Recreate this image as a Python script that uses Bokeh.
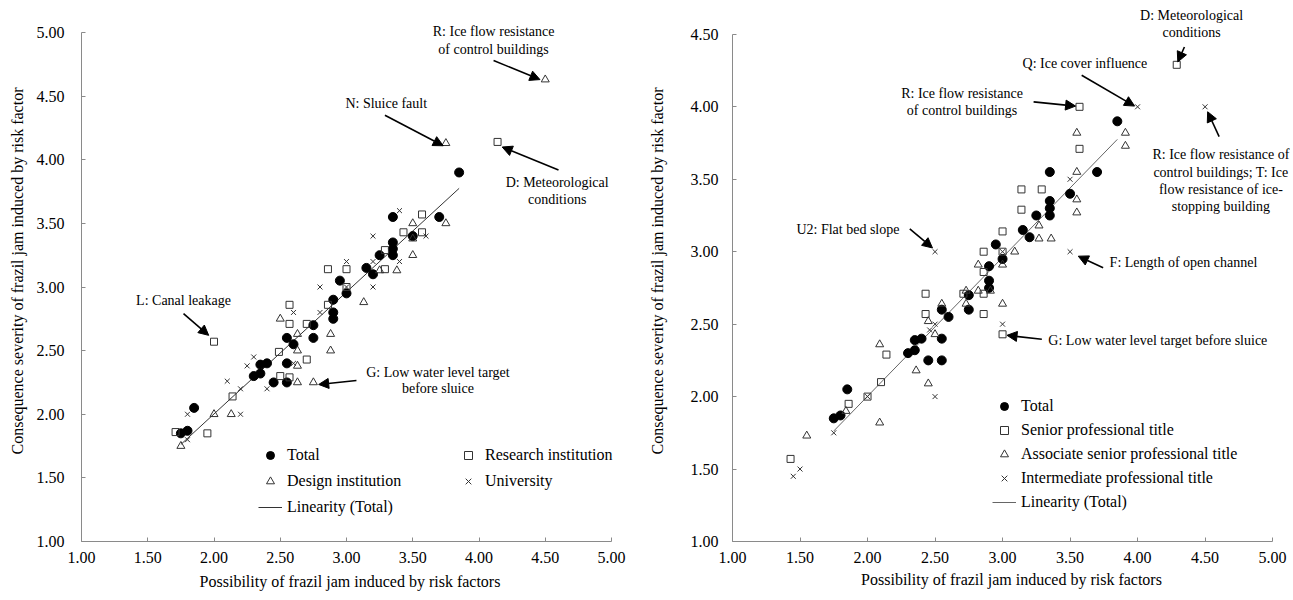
import numpy as np
from bokeh.plotting import figure
from bokeh.layouts import row
from bokeh.models import (Legend, LegendItem, Label, Arrow, NormalHead, FixedTicker,
                          PrintfTickFormatter, Range1d)
from bokeh.embed import file_html
from bokeh.resources import INLINE

FONT = "Liberation Serif"

# ---------------- data ----------------
total_x = [1.75, 1.80, 1.85, 2.30, 2.35, 2.35, 2.40, 2.45, 2.55, 2.55, 2.55, 2.60, 2.75, 2.75, 2.90,
           2.90, 2.90, 2.95, 3.00, 3.15, 3.20, 3.25, 3.35, 3.35, 3.35, 3.35, 3.50, 3.70, 3.85]
total_y = [1.85, 1.87, 2.05, 2.30, 2.32, 2.39, 2.40, 2.25, 2.25, 2.40, 2.60, 2.55, 2.70, 2.60, 2.90,
           2.80, 2.75, 3.05, 2.95, 3.15, 3.10, 3.25, 3.35, 3.30, 3.25, 3.55, 3.40, 3.55, 3.90]

research_x = [1.71, 1.95, 2.00, 2.14, 2.49, 2.50, 2.57, 2.57, 2.57, 2.70, 2.70, 2.86, 3.00, 2.86,
              3.00, 3.29, 3.29, 3.43, 3.57, 3.57, 4.14]
research_y = [1.86, 1.85, 2.57, 2.14, 2.49, 2.30, 2.29, 2.71, 2.86, 2.71, 2.43, 2.86, 3.00, 3.14,
              3.14, 3.14, 3.29, 3.43, 3.43, 3.57, 4.14]

design_x = [1.75, 2.00, 2.13, 2.50, 2.63, 2.63, 2.63, 2.63, 2.75, 2.88, 2.88, 3.13, 3.25, 3.38,
            3.50, 3.50, 3.50, 3.75, 3.75, 4.50]
design_y = [1.75, 2.00, 2.00, 2.75, 2.63, 2.50, 2.38, 2.25, 2.25, 2.63, 2.50, 2.88, 3.13, 3.13,
            3.25, 3.38, 3.50, 3.50, 4.13, 4.63]

univ_x = [1.80, 1.80, 2.10, 2.20, 2.20, 2.25, 2.30, 2.40, 2.60, 2.60, 2.80, 2.80, 3.00, 3.00,
          3.20, 3.20, 3.20, 3.40, 3.40, 3.60]
univ_y = [2.00, 1.80, 2.26, 2.20, 2.00, 2.38, 2.45, 2.20, 2.80, 2.40, 3.00, 2.80, 3.00, 3.20,
          3.00, 3.20, 3.40, 3.60, 3.20, 3.40]

senior_x = [1.43, 1.86, 2.00, 2.10, 2.14, 2.43, 2.43, 2.71, 2.86, 2.86, 3.00, 2.86, 2.86, 3.00,
            3.00, 3.14, 3.14, 3.29, 3.57, 3.57, 4.29]
senior_y = [1.57, 1.95, 2.00, 2.10, 2.29, 2.57, 2.71, 2.71, 2.71, 2.57, 2.43, 2.86, 3.00, 3.00,
            3.14, 3.29, 3.43, 3.43, 3.71, 4.00, 4.29]

assoc_x = [1.55, 1.84, 2.09, 2.09, 2.36, 2.45, 2.45, 2.50, 2.55, 2.73, 2.73, 2.82, 2.91, 3.00,
           2.82, 3.00, 3.09, 3.27, 3.27, 3.36, 3.55, 3.55, 3.55, 3.55, 3.91, 3.91]
assoc_y = [1.73, 1.90, 1.82, 2.36, 2.18, 2.09, 2.52, 2.43, 2.64, 2.64, 2.73, 2.73, 2.73, 2.64,
           2.91, 2.91, 3.00, 3.18, 3.09, 3.09, 3.36, 3.27, 3.55, 3.82, 3.82, 3.73]

inter_x = [1.45, 1.50, 1.75, 2.00, 2.50, 2.46, 2.50, 3.00, 2.50, 3.00, 3.50, 3.50, 4.00, 4.50]
inter_y = [1.45, 1.50, 1.75, 2.00, 2.00, 2.46, 2.50, 2.50, 3.00, 3.00, 3.00, 3.50, 4.00, 4.00]

x_ticks = [1.0, 1.5, 2.0, 2.5, 3.0, 3.5, 4.0, 4.5, 5.0]
left_y_ticks = [1.0, 1.5, 2.0, 2.5, 3.0, 3.5, 4.0, 4.5, 5.0]
right_y_ticks = [1.0, 1.5, 2.0, 2.5, 3.0, 3.5, 4.0, 4.5]

x_label = "Possibility of frazil jam induced by risk factors"
y_label = "Consequence severity of frazil jam induced by risk factor"

# annotation texts (text, x, y) and arrows (x0, y0, x1, y1)
left_notes = [
    ("R: Ice flow resistance", 4.11, 5.01),
    ("of control buildings", 4.11, 4.87),
    ("N: Sluice fault", 3.30, 4.44),
    ("D: Meteorological", 4.59, 3.82),
    ("conditions", 4.59, 3.69),
    ("L: Canal leakage", 1.77, 2.89),
    ("G: Low water level target", 3.69, 2.33),
    ("before sluice", 3.69, 2.20),
]
left_arrows = [
    (4.11, 4.78, 4.46, 4.63),
    (3.29, 4.35, 3.73, 4.11),
    (4.60, 3.92, 4.175, 4.10),
    (1.77, 2.79, 1.96, 2.62),
    (3.075, 2.265, 2.79, 2.234),
]
right_notes = [
    ("D: Meteorological", 4.40, 4.63),
    ("conditions", 4.40, 4.51),
    ("Q: Ice cover influence", 3.61, 4.30),
    ("R: Ice flow resistance", 2.70, 4.09),
    ("of control buildings", 2.70, 3.975),
    ("R: Ice flow resistance of", 4.617, 3.67),
    ("control buildings; T: Ice", 4.617, 3.545),
    ("flow resistance of ice-", 4.617, 3.43),
    ("stopping building", 4.617, 3.31),
    ("F: Length of open channel", 4.34, 2.925),
    ("G: Low water level target before sluice", 4.15, 2.39),
    ("U2: Flat bed slope", 1.855, 3.15),
]
right_arrows = [
    (4.347, 4.413, 4.298, 4.31),
    (3.586, 4.218, 3.978, 4.005),
    (3.23, 4.034, 3.541, 4.005),
    (4.604, 3.794, 4.519, 3.966),
    (3.745, 2.889, 3.561, 2.969),
    (3.291, 2.396, 3.033, 2.423),
    (2.313, 3.157, 2.481, 3.026),
]

AX_COL = "#8a8a8a"
MK_COL = "#333333"
HEIGHT = 597


def make_fig(width, b_left, b_right, b_bottom, x_end, y_end, y_bound, y_ticks,
             tick_standoff, lab_standoff, x_lab_standoff):
    p = figure(width=width, height=HEIGHT, x_range=Range1d(1, x_end), y_range=Range1d(1, y_end),
               output_backend="svg", toolbar_location=None, title=None,
               min_border_left=b_left, min_border_right=b_right,
               min_border_top=0, min_border_bottom=b_bottom)
    p.outline_line_color = None
    p.grid.visible = False
    p.background_fill_color = "white"
    p.border_fill_color = "white"
    p.xaxis.ticker = FixedTicker(ticks=x_ticks)
    p.yaxis.ticker = FixedTicker(ticks=y_ticks)
    p.xaxis.bounds = (1, 5)
    p.yaxis.bounds = (1, y_bound)
    for ax in (p.xaxis, p.yaxis):
        ax.formatter = PrintfTickFormatter(format="%.2f")
        ax.axis_line_color = AX_COL
        ax.major_tick_line_color = AX_COL
        ax.minor_tick_line_color = None
        ax.major_tick_in = 4
        ax.major_tick_out = 0
        ax.major_label_text_font = FONT
        ax.major_label_text_font_size = "16px"
        ax.major_label_text_color = "black"
        ax.axis_label_text_font = FONT
        ax.axis_label_text_font_size = "16px"
        ax.axis_label_text_font_style = "normal"
        ax.axis_label_text_color = "black"
    p.xaxis.axis_label = x_label
    p.yaxis.axis_label = y_label
    p.xaxis.major_label_standoff = 10
    p.xaxis.axis_label_standoff = x_lab_standoff
    p.yaxis.major_label_standoff = tick_standoff
    p.yaxis.axis_label_standoff = lab_standoff
    return p


def add_notes(p, notes, arrows):
    for t, x, y in notes:
        p.add_layout(Label(x=x, y=y, text=t, text_align="center", text_baseline="middle",
                           text_font=FONT, text_font_size="14px", text_color="black"))
    for x0, y0, x1, y1 in arrows:
        p.add_layout(Arrow(x_start=x0, y_start=y0, x_end=x1, y_end=y1,
                           line_color="black", line_width=1.6,
                           end=NormalHead(size=10, fill_color="black", line_color="black")))


# linear trend of the Total series
slope, intercept = np.polyfit(total_x, total_y, 1)
fit_x = [min(total_x), max(total_x)]
fit_y = [slope * v + intercept for v in fit_x]

# ---------------- left panel ----------------
# frame: x 81..618 (132.5 px/unit), y 1.0 at 541 (127.25 px/unit)
p1 = make_fig(645, 81, 27, HEIGHT - 541, 1 + 537 / 132.5, 1 + 541 / 127.25, 5.0, left_y_ticks,
              17, 8, 7)
r_line1 = p1.line(fit_x, fit_y, line_color="#333333", line_width=1)
r_tot1 = p1.scatter(total_x, total_y, marker="circle", size=9, fill_color="black", line_color="black")
r_res = p1.scatter(research_x, research_y, marker="square", size=7, fill_color=None,
                   line_color=MK_COL, line_width=1)
r_des = p1.scatter(design_x, design_y, marker="triangle", size=8, fill_color=None,
                   line_color=MK_COL, line_width=1)
r_uni = p1.scatter(univ_x, univ_y, marker="x", size=7, line_color=MK_COL, line_width=1)
add_notes(p1, left_notes, left_arrows)

# column-major fill: col 1 = Total, Design, Linearity; col 2 = Research, University
leg1 = Legend(items=[
    LegendItem(label="Total", renderers=[r_tot1]),
    LegendItem(label="Design institution", renderers=[r_des]),
    LegendItem(label="Linearity (Total)", renderers=[r_line1]),
    LegendItem(label="Research institution", renderers=[r_res]),
    LegendItem(label="University", renderers=[r_uni]),
], ncols=2, location=(177, 24))

# ---------------- right panel ----------------
# frame: x starts at 729 (135.75 px/unit) to page edge, y 1.0 at 543 (145.43 px/unit)
p2 = make_fig(645, 84, 0, HEIGHT - 543, 1 + 561 / 135.75, 1 + 543 / 145.43, 4.5, right_y_ticks,
              14, 22, 5)
r_line2 = p2.line(fit_x, fit_y, line_color="#666666", line_width=1)
r_tot2 = p2.scatter(total_x, total_y, marker="circle", size=9, fill_color="black", line_color="black")
r_sen = p2.scatter(senior_x, senior_y, marker="square", size=7, fill_color=None,
                   line_color=MK_COL, line_width=1)
r_ass = p2.scatter(assoc_x, assoc_y, marker="triangle", size=8, fill_color=None,
                   line_color=MK_COL, line_width=1)
r_int = p2.scatter(inter_x, inter_y, marker="x", size=7, line_color=MK_COL, line_width=1)
add_notes(p2, right_notes, right_arrows)

leg2 = Legend(items=[
    LegendItem(label="Total", renderers=[r_tot2]),
    LegendItem(label="Senior professional title", renderers=[r_sen]),
    LegendItem(label="Associate senior professional title", renderers=[r_ass]),
    LegendItem(label="Intermediate professional title", renderers=[r_int]),
    LegendItem(label="Linearity (Total)", renderers=[r_line2]),
], location=(260, 29))

for leg, sp, lw in ((leg1, 6, 163), (leg2, 4, 20)):
    leg.label_text_font = FONT
    leg.label_text_font_size = "16px"
    leg.label_text_color = "black"
    leg.glyph_width = 24
    leg.glyph_height = 20
    leg.label_height = 20
    leg.label_width = lw
    leg.label_standoff = 5
    leg.spacing = sp
    leg.padding = 0
    leg.margin = 0
    leg.border_line_color = None
    leg.background_fill_alpha = 0

p1.add_layout(leg1)
p2.add_layout(leg2)

layout = row(p1, p2)
open("out.html", "w").write(file_html(layout, INLINE))
